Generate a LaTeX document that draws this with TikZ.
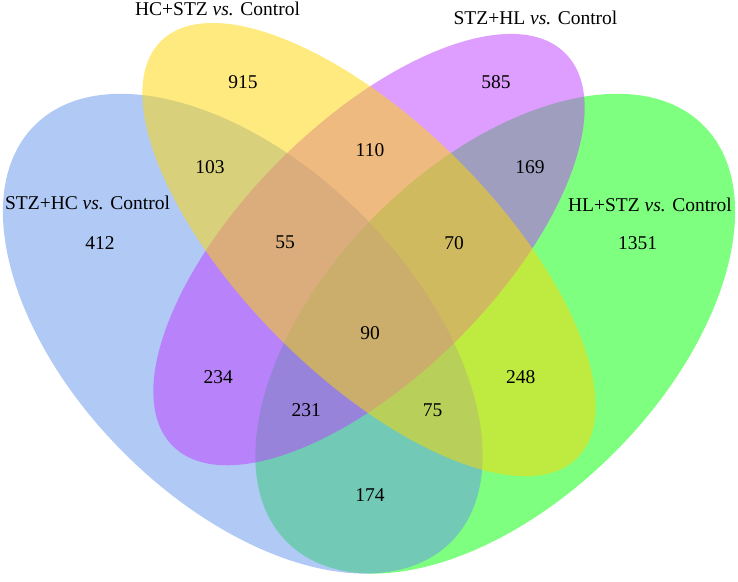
\documentclass[tikz,border=0pt]{standalone}
\usepackage{fontspec}
\setmainfont{Liberation Serif}
\definecolor{cornflower}{RGB}{100,149,237}
\definecolor{goldc}{RGB}{255,215,0}
\definecolor{orchidc}{RGB}{191,62,255}
\definecolor{greenc}{RGB}{0,255,0}
\begin{document}
\begin{tikzpicture}[x=1pt,y=1pt,
  setfill/.style={fill opacity=0.5},
  lab/.style={font=\fontsize{19.5}{23}\selectfont, inner sep=0pt, text=black}]
\useasboundingbox (0,0) rectangle (738,581);
\fill[white] (0,0) rectangle (738,581);
% sets (drawn in order green, blue, purple, yellow)
\fill[greenc, setfill, rotate around={45:(495.2,247.3)}] (495.2,247.3) ellipse [x radius=294.5pt, y radius=168.3pt];
\fill[cornflower, setfill, rotate around={-45:(242.8,247.3)}] (242.8,247.3) ellipse [x radius=294.5pt, y radius=168.3pt];
\fill[orchidc, setfill, rotate around={45:(369,331.4)}] (369,331.4) ellipse [x radius=277.6pt, y radius=126.2pt];
\fill[goldc, setfill, rotate around={-45:(369,331.4)}] (369,331.4) ellipse [x radius=294.5pt, y radius=126.2pt];
% set labels
\node[lab] (tB) at (217.5,572) {HC+STZ \textit{vs.} Control};
\node[lab] (tC) at (535.5,562.7) {STZ+HL \textit{vs.} Control};
\node[lab] (tA) at (87.5,378) {STZ+HC \textit{vs.} Control};
\node[lab] (tD) at (650,376) {HL+STZ \textit{vs.} Control};
% counts
\node[lab] (n915) at (243,498.5) {915};
\node[lab] (n585) at (496,498.5) {585};
\node[lab] (n103) at (210,414.3) {103};
\node[lab] (n110) at (370,431) {110};
\node[lab] (n169) at (530,414.3) {169};
\node[lab] (n412) at (100,338.3) {412};
\node[lab] (n55) at (285,338.3) {55};
\node[lab] (n70) at (454,338.3) {70};
\node[lab] (n1351) at (637.7,338.3) {1351};
\node[lab] (n90) at (370,247.5) {90};
\node[lab] (n234) at (218.3,204) {234};
\node[lab] (n248) at (520.8,204) {248};
\node[lab] (n231) at (306.3,170.7) {231};
\node[lab] (n75) at (432.5,171) {75};
\node[lab] (n174) at (370,86) {174};
\end{tikzpicture}
\end{document}
